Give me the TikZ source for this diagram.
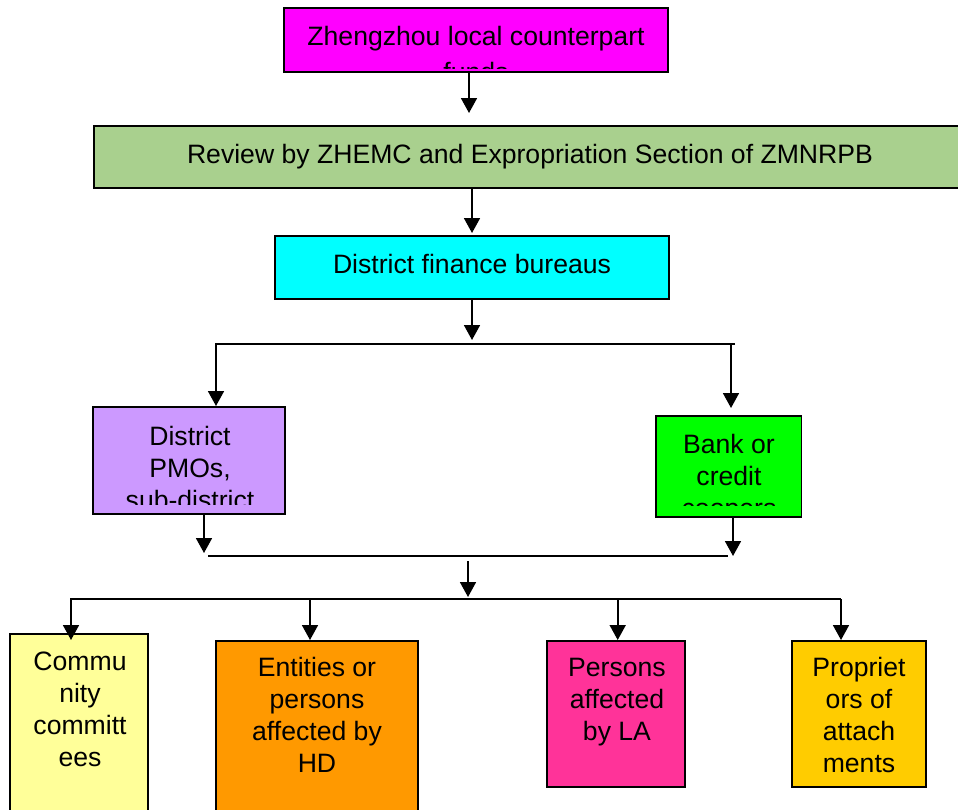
\documentclass[tikz,border=0pt]{standalone}
\usepackage{fontspec}
\setmainfont{Liberation Sans}
\usetikzlibrary{arrows.meta}
\definecolor{cmag}{HTML}{FF00FF}
\definecolor{cgreen}{HTML}{A9D08E}
\definecolor{ccyan}{HTML}{00FFFF}
\definecolor{cpurple}{HTML}{CC99FF}
\definecolor{clime}{HTML}{00FF00}
\definecolor{cyel}{HTML}{FFFF99}
\definecolor{corange}{HTML}{FF9900}
\definecolor{cpink}{HTML}{FF3399}
\definecolor{cgold}{HTML}{FFCC00}
\begin{document}
\begin{tikzpicture}[x=1pt,y=-1pt,
  box/.style={draw=black, line width=1.6pt, rectangle, inner sep=0pt},
  arr/.style={line width=1.8pt, -{Triangle[width=16pt,length=15pt]}},
  ln/.style={line width=1.8pt},
  txt/.style={font=\fontsize{26.6}{32}\selectfont, inner sep=0pt, anchor=base}]
\useasboundingbox (0,0) rectangle (958,809);

% boxes
\node[box, fill=cmag, minimum width=384pt, minimum height=64pt] (top) at (476,40) {};
\node[box, fill=cgreen, minimum width=872pt, minimum height=62pt] (rev) at (530,157) {};
\node[box, fill=ccyan, minimum width=394pt, minimum height=63pt] (fin) at (472,267.5) {};
\node[box, fill=cpurple, minimum width=192pt, minimum height=107pt] (pmo) at (189,460.5) {};
\node[box, fill=clime, minimum width=145.5pt, minimum height=101pt] (bank) at (728.75,466.5) {};
\node[box, fill=cyel, minimum width=138pt, minimum height=196pt] (comm) at (79,732) {};
\node[box, fill=corange, minimum width=202pt, minimum height=189pt] (ent) at (317,735.5) {};
\node[box, fill=cpink, minimum width=138pt, minimum height=146pt] (pers) at (616,714) {};
\node[box, fill=cgold, minimum width=134pt, minimum height=146pt] (prop) at (859,714) {};

% texts
\begin{scope}
\clip (285,9) rectangle (667,68);
\node[txt] (ttop) at (476,45) {\begin{tabular}[t]{@{}c@{}}Zhengzhou local counterpart\\[4pt]funds\end{tabular}};
\end{scope}
\node[txt] (trev) at (530,163.5) {Review by ZHEMC and Expropriation Section of ZMNRPB};
\node[txt] (tfin) at (472,273) {District finance bureaus};
\begin{scope}
\clip (94,408) rectangle (285,504);
\node[txt] (tpmo) at (190,445) {\begin{tabular}[t]{@{}c@{}}District\\PMOs,\\sub-district\end{tabular}};
\end{scope}
\begin{scope}
\clip (657,417) rectangle (801,505);
\node[txt] (tbank) at (729,453.3) {\begin{tabular}[t]{@{}c@{}}Bank or\\credit\\coopers\end{tabular}};
\end{scope}
\node[txt] (tcomm) at (80,670.7) {\begin{tabular}[t]{@{}c@{}}Commu\\nity\\committ\\ees\end{tabular}};
\node[txt] (tent) at (317,676.7) {\begin{tabular}[t]{@{}c@{}}Entities or\\persons\\affected by\\HD\end{tabular}};
\node[txt] (tpers) at (617,676.7) {\begin{tabular}[t]{@{}c@{}}Persons\\affected\\by LA\end{tabular}};
\node[txt] (tprop) at (859,676.7) {\begin{tabular}[t]{@{}c@{}}Propriet\\ors of\\attach\\ments\end{tabular}};

% connectors
\coordinate (a1e) at (469,113);
\draw[arr] (top.south -| a1e) -- (a1e);
\coordinate (a2e) at (472,233);
\draw[arr] (rev.south -| a2e) -- (a2e);
\coordinate (a3e) at (472,340);
\draw[arr] (fin.south -| a3e) -- (a3e);

\coordinate (h1l) at (216,344);
\coordinate (h1r) at (735,344);
\coordinate (a4e) at (216,406);
\draw[arr] (h1r) -- (h1l) -- (a4e);
\coordinate (h1b) at (731,344);
\coordinate (a5e) at (731,408);
\draw[arr] (h1b) -- (a5e);

\coordinate (a6e) at (204,553);
\draw[arr] (pmo.south -| a6e) -- (a6e);
\coordinate (a7e) at (733,556);
\draw[arr] (bank.south -| a7e) -- (a7e);
\coordinate (h2l) at (208,556);
\coordinate (h2r) at (728,556);
\draw[ln] (h2l) -- (h2r);
\coordinate (a8s) at (468,561);
\coordinate (a8e) at (468,597);
\draw[arr] (a8s) -- (a8e);

\coordinate (h3l) at (71,599.3);
\coordinate (h3r) at (841,599.3);
\coordinate (b2) at (310,599.3);
\coordinate (b3) at (617.7,599.3);
\coordinate (a9e) at (71,640);
\coordinate (a10e) at (310,640);
\coordinate (a11e) at (617.7,640);
\coordinate (a12e) at (841,640);
\draw[arr] (h3r) -- (h3l) -- (a9e);
\draw[arr] (b2) -- (a10e);
\draw[arr] (b3) -- (a11e);
\draw[arr] (h3r) -- (a12e);
\end{tikzpicture}
\end{document}
